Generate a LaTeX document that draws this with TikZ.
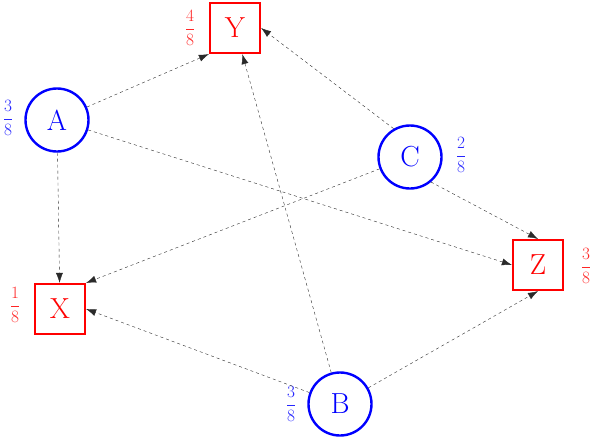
\documentclass[tikz,border=0pt]{standalone}
\usepackage{tikz}
\usetikzlibrary{arrows.meta,positioning}
\usepackage{amsmath}
\usepackage{xcolor}
\definecolor{gInk}{HTML}{2A2A2A}
\tikzset{
  src/.style={circle, draw=blue, line width=2.4pt, minimum size=63pt, inner sep=0pt, text=blue, font=\fontsize{29}{31}\selectfont},
  dst/.style={rectangle, draw=red, line width=2.2pt, minimum size=50pt, inner sep=0pt, text=red, font=\fontsize{29}{31}\selectfont},
  wtB/.style={text=blue!85, inner sep=0pt, font=\fontsize{19}{21}\selectfont},
  wtR/.style={text=red!85, inner sep=0pt, font=\fontsize{19}{21}\selectfont},
  arr/.style={-{Latex[length=10pt,width=7pt]}, dashed, thin, draw=gInk},
}
\begin{document}
\begin{tikzpicture}[x=1pt,y=-1pt]
  \useasboundingbox (0,0) rectangle (594,440);
  % sources
  \node[src] (A) at (57,120) {A};
  \node[src] (C) at (410,157) {C};
  \node[src] (B) at (340,404) {B};
  % targets
  \node[dst] (Y) at (235,28) {Y};
  \node[dst] (X) at (60,309) {X};
  \node[dst] (Z) at (538,265) {Z};
  % weights
  \node[wtB] (wA) at (8,118) {$\dfrac{3}{8}$};
  \node[wtB] (wC) at (461,155) {$\dfrac{2}{8}$};
  \node[wtB] (wB) at (291,404) {$\dfrac{3}{8}$};
  \node[wtR] (wY) at (190,28) {$\dfrac{4}{8}$};
  \node[wtR] (wX) at (15,305) {$\dfrac{1}{8}$};
  \node[wtR] (wZ) at (586,266) {$\dfrac{3}{8}$};
  % edges
  \draw[arr] (A) -- (Y.south west);
  \draw[arr] (A) -- (X);
  \draw[arr] (A) -- (Z.west);
  \draw[arr] (C.120) -- (Y.east);
  \draw[arr] (C) -- (X.north east);
  \draw[arr] (C.-50) -- (Z.north);
  \draw[arr] (B) -- (Y);
  \draw[arr] (B) -- (X.east);
  \draw[arr] (B) -- (Z.south);
\end{tikzpicture}
\end{document}
